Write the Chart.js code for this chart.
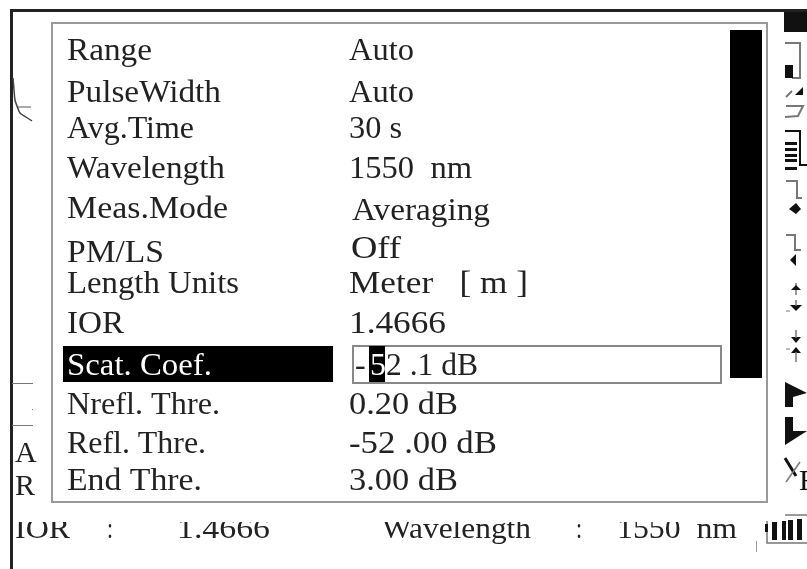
<!DOCTYPE html>
<html>
<head>
<meta charset="utf-8">
<style>
  html, body { margin: 0; padding: 0; background: #fff; overflow: hidden; }
  #wrap { position: relative; width: 807px; height: 569px; }
  canvas { filter: blur(0.6px); }
</style>
<script src="https://cdn.jsdelivr.net/npm/chart.js@4"></script>
</head>
<body>
<div id="wrap"><canvas id="chart" width="807" height="569"></canvas></div>
<script>
const settingNames = ['Range', 'PulseWidth', 'Avg.Time', 'Wavelength', 'Meas.Mode', 'PM/LS', 'Length Units', 'IOR', 'Scat. Coef.', 'Nrefl. Thre.', 'Refl. Thre.', 'End Thre.'];
const settingValues = ['Auto', 'Auto', '30 s', '1550  nm', 'Averaging', 'Off', 'Meter   [ m ]', '1.4666', '- 52 .1 dB', '0.20 dB', '-52 .00 dB', '3.00 dB'];
const statusLabels = ['IOR', ':', '1.4666', 'Wavelength', ':', '1550  nm'];
const sideLetters = ['A', 'R'];
const traceX = [13, 14, 15, 17, 20, 26, 32];
const traceY = [78, 90, 100, 106, 113, 117, 121];

// layout of the menu, in picture pixels
const nameBase = [60, 102, 138, 178, 218, 262, 293, 333, 375, 414, 453, 490];
const nameWidth = [85, 154, 127, 158, 161, 97, 172, 57, 145, 153, 139, 135];
const valueBase = [60, 102, 138, 178, 220, 258, 293, 333, 375, 414, 453, 490];
const valueLeft = [349, 349, 349, 349, 352, 351, 349, 349, 352, 349, 349, 349];
const valueWidth = [65, 65, 53, 123, 138, 50, 179, 97, 0, 109, 148, 109];
const statusLeft = [15, 107, 177, 382, 576, 617];
const statusWidth = [55, 6, 93, 149, 6, 120];
const SERIF = '"Liberation Serif", serif';
const SCAT_ROW = 8;

function rect(ctx, x, y, w, h, c) { ctx.fillStyle = c; ctx.fillRect(x, y, w, h); }
function poly(ctx, pts, c, lw) {
    ctx.strokeStyle = c; ctx.lineWidth = lw; ctx.beginPath();
    pts.forEach((p, i) => i ? ctx.lineTo(p[0], p[1]) : ctx.moveTo(p[0], p[1]));
    ctx.stroke();
}
function shape(ctx, pts, c) {
    ctx.fillStyle = c; ctx.beginPath();
    pts.forEach((p, i) => i ? ctx.lineTo(p[0], p[1]) : ctx.moveTo(p[0], p[1]));
    ctx.closePath(); ctx.fill();
}
// text stretched sideways to the width it has in the picture
function text(ctx, s, x, y, size, c, w) {
    ctx.font = size + 'px ' + SERIF; ctx.fillStyle = c; ctx.textBaseline = 'alphabetic'; ctx.textAlign = 'left';
    if (!w) { ctx.fillText(s, x, y); return; }
    const k = w / ctx.measureText(s).width;
    ctx.save();
    ctx.translate(x, y);
    ctx.scale(k, 1);
    ctx.fillText(s, 0, 0);
    ctx.restore();
}

function drawIcons(ctx) {
    const g = '#777', k = '#111';
    rect(ctx, 784, 12, 23, 20, k);
    poly(ctx, [[785, 43], [800, 43], [800, 78], [792, 78]], g, 2);
    rect(ctx, 785, 65, 8, 13, k);
    shape(ctx, [[795, 95], [803, 87], [803, 95]], k);
    poly(ctx, [[786, 97], [792, 91]], g, 2);
    poly(ctx, [[786, 106], [803, 106], [798, 116], [785, 117]], g, 2);
    poly(ctx, [[785, 131], [800, 131], [800, 165], [807, 165]], k, 2);
    [143, 149, 155, 160, 168].forEach(y => rect(ctx, 785, y - 1, 12, 3, k));
    poly(ctx, [[786, 181], [797, 181], [797, 198], [802, 198]], g, 2);
    shape(ctx, [[789, 209], [796, 203], [801, 209], [796, 214]], k);
    poly(ctx, [[786, 235], [795, 235], [795, 250], [801, 250]], g, 2);
    shape(ctx, [[790, 260], [796, 254], [796, 266]], k);
    poly(ctx, [[796, 283], [796, 295]], g, 1.5);
    shape(ctx, [[791, 290], [796, 285], [801, 290]], k);
    shape(ctx, [[790, 305], [802, 305], [796, 311]], k);
    poly(ctx, [[796, 300], [796, 306]], g, 1.5);
    poly(ctx, [[786, 311], [790, 311]], g, 1);
    shape(ctx, [[791, 337], [801, 337], [796, 343]], k);
    poly(ctx, [[796, 330], [796, 338]], g, 1.5);
    shape(ctx, [[791, 353], [796, 347], [801, 353]], k);
    poly(ctx, [[796, 352], [796, 362]], g, 1.5);
    poly(ctx, [[786, 349], [790, 349]], g, 1);
    shape(ctx, [[785, 382], [807, 393], [793, 397], [793, 407], [785, 407]], k);
    shape(ctx, [[785, 417], [793, 417], [793, 431], [807, 431], [785, 445]], k);
    poly(ctx, [[785, 458], [796, 476]], k, 3);
    poly(ctx, [[800, 462], [786, 482]], g, 1.5);
    text(ctx, 'E', 799, 490, 30, k);
    // battery
    poly(ctx, [[807, 515], [785, 515]], g, 1.5);
    poly(ctx, [[767, 521], [767, 543], [807, 543]], g, 1.5);
    rect(ctx, 765, 524, 3, 8, k);
    rect(ctx, 772, 522, 5, 18, k);
    rect(ctx, 782, 521, 4, 19, k);
    rect(ctx, 788, 520, 5, 20, k);
    rect(ctx, 797, 519, 5, 21, k);
    rect(ctx, 756, 541, 1, 11, '#999');
}

const menuPlugin = {
    id: 'menu',
    beforeDatasetsDraw(chart) {
        const ctx = chart.ctx;
        ctx.save();
        // instrument screen edge
        rect(ctx, 10, 9, 797, 3, '#222');
        rect(ctx, 10, 9, 3, 560, '#222');
        // stubs of the screen behind the menu
        rect(ctx, 12, 383, 21, 1, '#777');
        rect(ctx, 12, 425, 21, 1, '#777');
        rect(ctx, 32, 409, 1, 1, '#777');
        poly(ctx, [[18, 107], [31, 107]], '#555', 1);
        ctx.restore();
    },
    afterDatasetsDraw(chart) {
        const ctx = chart.ctx;
        const y = chart.scales.y;
        ctx.save();
        text(ctx, sideLetters[0], 15, 462, 30, '#222');
        text(ctx, sideLetters[1], 15, 495, 30, '#222');

        // menu panel
        ctx.strokeStyle = '#999'; ctx.lineWidth = 2;
        ctx.strokeRect(52, 23, 715, 479);

        // highlighted row, edit box, scroll thumb
        rect(ctx, 63, 346, 270, 36, '#000');
        ctx.strokeStyle = '#888'; ctx.lineWidth = 2;
        ctx.strokeRect(353, 346, 368, 37);
        rect(ctx, 369, 346, 16, 36, '#000');
        rect(ctx, 730, 30, 32, 348, '#000');

        settingNames.forEach((n, i) => {
            text(ctx, n, 67, y.getPixelForValue(nameBase[i]), 32, i === SCAT_ROW ? '#fff' : '#222', nameWidth[i]);
        });
        settingValues.forEach((v, i) => {
            const b = y.getPixelForValue(valueBase[i]);
            if (i === SCAT_ROW) {
                text(ctx, '-', 355, b, 32, '#222');
                text(ctx, '5', 370, b, 32, '#fff');
                text(ctx, '2 .1 dB', 386, b, 32, '#222', 92);
            } else {
                text(ctx, v, valueLeft[i], b, 32, '#222', valueWidth[i]);
            }
        });

        // status line, its top is cut off by the menu
        ctx.beginPath();
        ctx.rect(13, 522, 745, 30);
        ctx.clip();
        statusLabels.forEach((s, i) => text(ctx, s, statusLeft[i], 538, 30, '#222', statusWidth[i]));
        ctx.restore();

        ctx.save();
        drawIcons(ctx);
        ctx.restore();
    }
};

new Chart(document.getElementById('chart'), {
    type: 'line',
    data: {
        labels: traceX,
        datasets: [{
            data: traceX.map((x, i) => ({ x: x, y: traceY[i] })),
            borderColor: '#444', borderWidth: 1.5, pointRadius: 0, tension: 0.3, parsing: false
        }]
    },
    options: {
        responsive: false,
        animation: false,
        layout: { padding: 0 },
        plugins: { legend: { display: false }, tooltip: { enabled: false }, title: { display: false } },
        scales: {
            x: { type: 'linear', min: 0, max: 807, display: false },
            y: { type: 'linear', min: 0, max: 569, reverse: true, display: false }
        }
    },
    plugins: [menuPlugin]
});
</script>
</body>
</html>
